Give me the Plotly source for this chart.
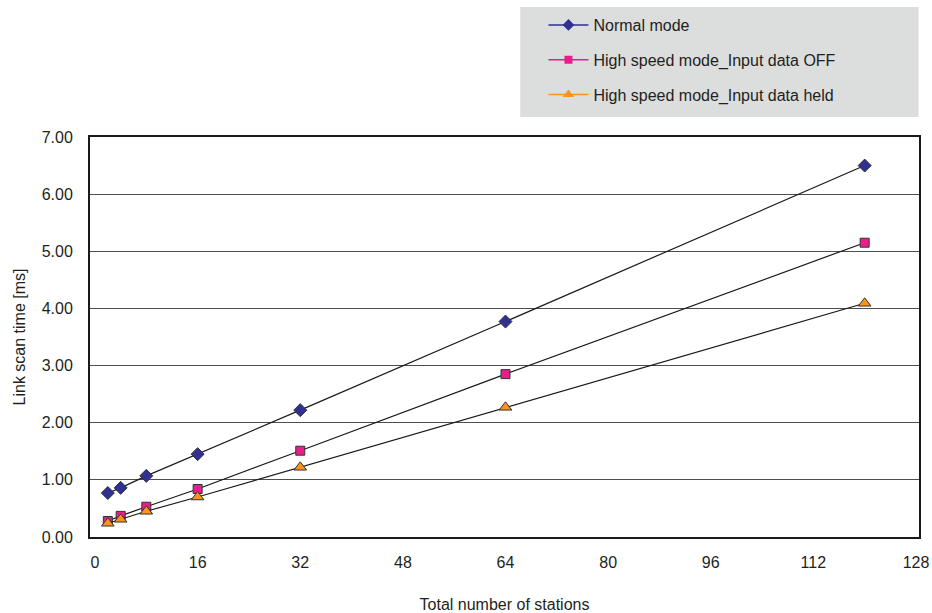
import plotly.graph_objects as go

# 站数
stations = [2, 4, 8, 16, 32, 64, 120]

normal_mode = [0.77, 0.86, 1.07, 1.45, 2.22, 3.77, 6.50]
high_speed_off = [0.28, 0.37, 0.53, 0.84, 1.51, 2.85, 5.15]
high_speed_held = [0.24, 0.31, 0.45, 0.70, 1.22, 2.27, 4.09]

series_names = [
    "Normal mode",
    "High speed mode_Input data OFF",
    "High speed mode_Input data held",
]
series_values = [normal_mode, high_speed_off, high_speed_held]
series_colors = ["#2E3192", "#EC1C8C", "#F7941D"]
series_symbols = ["diamond", "square", "triangle-up"]
marker_sizes = [10, 9, 11]

x_ticks = list(range(0, 129, 16))
y_ticks = [0, 1, 2, 3, 4, 5, 6, 7]

fig = go.Figure()

# 图中曲线为黑线，图例中用彩色
for name, vals, color, sym, size in zip(series_names, series_values,
                                        series_colors, series_symbols, marker_sizes):
    fig.add_trace(go.Scatter(
        x=stations, y=vals, mode="lines+markers",
        line=dict(color="#1a1a1a", width=1.2),
        marker=dict(symbol=sym, size=size, color=color,
                    line=dict(color="#333333", width=1)),
        showlegend=False, hoverinfo="x+y", name=name,
    ))

for i, (name, color, sym, size) in enumerate(zip(series_names, series_colors,
                                                 series_symbols, marker_sizes)):
    fig.add_trace(go.Scatter(
        x=[None], y=[None], mode="lines+markers", name=name,
        line=dict(color=color, width=1.5),
        marker=dict(symbol=sym, size=size - 1, color=color),
        legendgroup=f"g{i}",
    ))

# 图例灰色背景
fig.add_shape(type="rect", xref="paper", yref="paper",
              x0=0.519, x1=0.9995, y0=1.05, y1=1.325,
              fillcolor="#dcdddd", line_width=0, layer="below")

fig.update_layout(
    width=932, height=613,
    margin=dict(l=90, r=13, t=137, b=76, autoexpand=False),
    paper_bgcolor="white", plot_bgcolor="white",
    font=dict(family="Liberation Sans, Arial, sans-serif", size=16, color="#231f20"),
    legend=dict(
        x=0.547, y=1.3225, xanchor="left", yanchor="top",
        bgcolor="rgba(0,0,0,0)", font=dict(size=16),
        tracegroupgap=11, itemwidth=40,
    ),
    xaxis=dict(
        range=[-0.78, 128.47], tickvals=x_ticks, showgrid=False, zeroline=False,
        showline=True, mirror=True, linecolor="#1a1a1a", linewidth=2,
        ticks="", ticklabelstandoff=10, automargin=False,
        title=dict(text="Total number of stations", standoff=30,
                   font=dict(size=16)),
    ),
    yaxis=dict(
        range=[0, 7], tickvals=y_ticks, tickformat=".2f",
        showgrid=True, gridcolor="#4d4d4d", gridwidth=1, zeroline=False,
        showline=True, mirror=True, linecolor="#1a1a1a", linewidth=2,
        ticks="", ticklabelstandoff=12, automargin=False,
        title=dict(text="Link scan time [ms]", standoff=12,
                   font=dict(size=16)),
    ),
)

fig.write_html("out.html",
               config={"displayModeBar": False},
               post_script="document.body.style.margin='0';"
                           "document.body.style.overflow='hidden';")
